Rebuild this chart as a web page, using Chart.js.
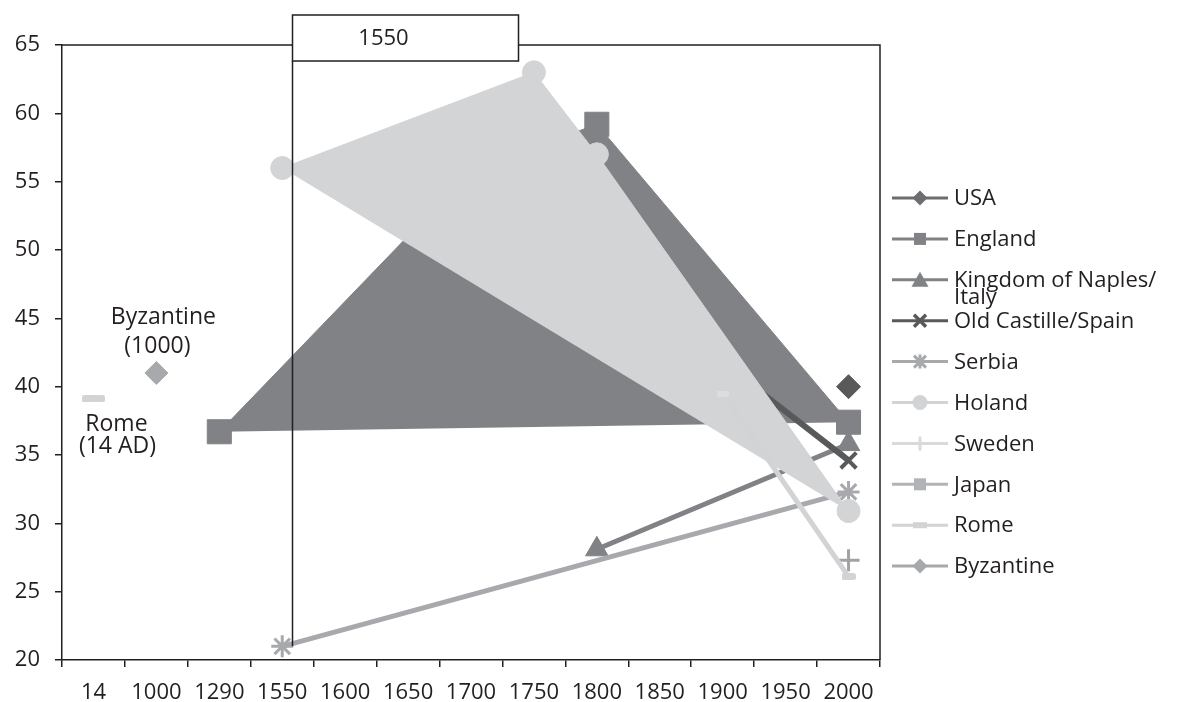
<!DOCTYPE html>
<html>
<head>
<meta charset="utf-8">
<script src="https://cdn.jsdelivr.net/npm/chart.js@4/dist/chart.umd.min.js"></script>
<style>
  html, body { margin: 0; padding: 0; background: #ffffff; }
  #wrap { width: 1178px; height: 702px; }
</style>
</head>
<body>
<div id="wrap"><canvas id="c" width="1178" height="702"></canvas></div>
<script>
// Categories along the time axis
const categories = ['14', '1000', '1290', '1550', '1600', '1650', '1700', '1750', '1800', '1850', '1900', '1950', '2000'];
const yTicks = [20, 25, 30, 35, 40, 45, 50, 55, 60, 65];

// Series values, one slot per category (null = no observation)
const usa       = [null, null, null, null, null, null, null, null, null, null, null, null, 40.0];
const england   = [null, null, 36.7, null, null, null, 55.8, null, 59.2, null, null, null, 37.4];
const naples    = [null, null, null, null, null, null, null, null, 28.1, null, null, null, 35.8];
const castille  = [null, null, null, null, null, null, null, 52.5, null, null, null, null, 34.6];
const serbia    = [null, null, null, 21.0, null, null, null, null, null, null, null, null, 32.3];
const holland   = [null, null, null, 56.0, null, null, null, 63.0, 57.0, null, null, null, 30.9];
const sweden    = [null, null, null, null, null, null, null, null, null, null, null, null, 27.3];
const japan     = [null, null, null, null, null, null, null, null, null, null, 39.5, null, 26.1];
const rome      = [39.1, null, null, null, null, null, null, null, null, null, null, null, null];
const byzantine = [null, 41.0, null, null, null, null, null, null, null, null, null, null, null];

const seriesNames = ['USA', 'England', 'Kingdom of Naples/Italy', 'Old Castille/Spain', 'Serbia',
                     'Holand', 'Sweden', 'Japan', 'Rome', 'Byzantine'];
const legendLines = [['USA'], ['England'], ['Kingdom of Naples/', 'Italy'], ['Old Castille/Spain'], ['Serbia'],
                     ['Holand'], ['Sweden'], ['Japan'], ['Rome'], ['Byzantine']];
const refYear = '1550';

const FONT = "'Open Sans', 'Noto Sans', sans-serif";
const TEXT = '#231f20';

// Small rounded dash used as a marker
function dashMarker(w, h, color) {
  const cv = document.createElement('canvas');
  cv.width = w; cv.height = h;
  const g = cv.getContext('2d');
  g.fillStyle = color;
  const r = Math.min(2, h / 2);
  g.beginPath();
  g.moveTo(r, 0); g.lineTo(w - r, 0); g.quadraticCurveTo(w, 0, w, r);
  g.lineTo(w, h - r); g.quadraticCurveTo(w, h, w - r, h);
  g.lineTo(r, h); g.quadraticCurveTo(0, h, 0, h - r);
  g.lineTo(0, r); g.quadraticCurveTo(0, 0, r, 0);
  g.fill();
  return cv;
}

const romeDash = dashMarker(23, 7, '#d1d3d4');
const japanDashA = dashMarker(12, 6, '#dcdddf');
const japanDashB = dashMarker(14, 7, '#d1d3d4');

const series = [
  { data: usa, name: seriesNames[0], line: '#58595b', point: '#58595b', style: 'rectRot', r: 12, bw: 4, pbw: 1, legend: '#6d6e71' },
  { data: england, name: seriesNames[1], line: '#808285', point: '#808285', style: 'rect', r: 17, bw: 1, pbw: 1, fill: 'shape', legend: '#808285' },
  { data: naples, name: seriesNames[2], line: '#808285', point: '#808285', style: 'triangle', r: 13, bw: 5, pbw: 1, legend: '#808285' },
  { data: castille, name: seriesNames[3], line: '#58595b', point: '#58595b', style: 'crossRot', r: 11, bw: 6, pbw: 4, legend: '#58595b' },
  { data: serbia, name: seriesNames[4], line: '#a7a9ac', point: '#a7a9ac', style: 'star', r: 11, bw: 5, pbw: 3, legend: '#a7a9ac' },
  { data: holland, name: seriesNames[5], line: '#d3d4d6', point: '#d3d4d6', style: 'circle', r: 11.5, bw: 1, pbw: 1, fill: 'shape', legend: '#d1d3d4' },
  { data: sweden, name: seriesNames[6], line: '#d9d9d9', point: '#a0a2a5', style: 'cross', r: 11, bw: 4, pbw: 3, legend: '#d9dadb' },
  { data: japan, name: seriesNames[7], line: '#d1d3d4', point: '#d1d3d4', style: [null, null, null, null, null, null, null, null, null, null, japanDashA, null, japanDashB], r: 6, bw: 5, pbw: 1, legend: '#b1b3b6', legendStyle: 'rect' },
  { data: rome, name: seriesNames[8], line: '#d1d3d4', point: '#d1d3d4', style: romeDash, r: 6, bw: 4, pbw: 1, legend: '#d1d3d4', legendStyle: 'dash' },
  { data: byzantine, name: seriesNames[9], line: '#a7a9ac', point: '#a7a9ac', style: 'rectRot', r: 11.5, bw: 4, pbw: 1, legend: '#a7a9ac' }
];

const datasets = series.map((s, i) => ({
  label: s.name,
  data: s.data,
  borderColor: s.line,
  backgroundColor: s.fill ? s.line : s.point,
  borderWidth: s.bw,
  pointStyle: s.style,
  pointRadius: s.r,
  pointHoverRadius: s.r,
  pointBackgroundColor: s.point,
  pointBorderColor: s.point,
  pointBorderWidth: s.pbw,
  fill: s.fill ? 'shape' : false,
  spanGaps: true,
  tension: 0,
  order: series.length - i,
  borderJoinStyle: 'miter'
}));

// Legend marker shapes (drawn by hand so the two-line entry wraps)
function legendMarker(ctx, kind, x, y, color) {
  ctx.save();
  ctx.fillStyle = color; ctx.strokeStyle = color;
  ctx.beginPath();
  if (kind === 'rectRot') {
    ctx.moveTo(x, y - 7.5); ctx.lineTo(x + 7.5, y); ctx.lineTo(x, y + 7.5); ctx.lineTo(x - 7.5, y); ctx.closePath(); ctx.fill();
  } else if (kind === 'rect') {
    ctx.rect(x - 6, y - 6, 12, 12); ctx.fill();
  } else if (kind === 'triangle') {
    ctx.moveTo(x, y - 8); ctx.lineTo(x + 8.5, y + 7); ctx.lineTo(x - 8.5, y + 7); ctx.closePath(); ctx.fill();
  } else if (kind === 'crossRot') {
    ctx.lineWidth = 3.5;
    ctx.moveTo(x - 6, y - 6); ctx.lineTo(x + 6, y + 6); ctx.moveTo(x + 6, y - 6); ctx.lineTo(x - 6, y + 6); ctx.stroke();
  } else if (kind === 'star') {
    ctx.lineWidth = 3;
    ctx.moveTo(x - 6, y - 6); ctx.lineTo(x + 6, y + 6); ctx.moveTo(x + 6, y - 6); ctx.lineTo(x - 6, y + 6);
    ctx.moveTo(x, y - 7); ctx.lineTo(x, y + 7); ctx.stroke();
  } else if (kind === 'circle') {
    ctx.arc(x, y, 7.5, 0, Math.PI * 2); ctx.fill();
  } else if (kind === 'cross') {
    ctx.lineWidth = 3;
    ctx.moveTo(x - 7, y); ctx.lineTo(x + 7, y); ctx.moveTo(x, y - 7); ctx.lineTo(x, y + 7); ctx.stroke();
  } else if (kind === 'dash') {
    ctx.rect(x - 7, y - 3, 14, 6); ctx.fill();
  }
  ctx.restore();
}

const overlayPlugin = {
  id: 'overlay',
  afterDraw(chart) {
    const { ctx, chartArea, scales } = chart;
    const xs = scales.x, ys = scales.y;
    ctx.save();

    // frame on the top and right of the plot area
    ctx.strokeStyle = TEXT; ctx.lineWidth = 1.5;
    ctx.beginPath();
    ctx.moveTo(chartArea.left, chartArea.top); ctx.lineTo(chartArea.right, chartArea.top);
    ctx.lineTo(chartArea.right, chartArea.bottom);
    ctx.stroke();

    // reference marker for the year 1550
    const idx = categories.indexOf(refYear);
    const step = xs.getPixelForValue(1) - xs.getPixelForValue(0);
    const lx = Math.round(xs.getPixelForValue(idx) + step * 0.16) + 0.5;
    const boxTop = 15, boxBottom = 61, boxW = 226;
    ctx.lineWidth = 1.5;
    ctx.beginPath();
    ctx.moveTo(lx, boxBottom);
    ctx.lineTo(lx, ys.getPixelForValue(serbia[idx]));
    ctx.stroke();
    ctx.fillStyle = '#ffffff';
    ctx.fillRect(lx, boxTop, boxW, boxBottom - boxTop);
    ctx.strokeRect(lx, boxTop, boxW, boxBottom - boxTop);
    ctx.fillStyle = TEXT;
    ctx.font = '22px ' + FONT;
    ctx.textAlign = 'center'; ctx.textBaseline = 'middle';
    ctx.fillText(refYear, lx + 91, (boxTop + boxBottom) / 2 + 1);

    // point captions for the two single ancient observations
    ctx.font = '23px ' + FONT;
    const rx = xs.getPixelForValue(0), ry = ys.getPixelForValue(rome[0]);
    ctx.fillText('Rome', rx + 23, ry + 25);
    ctx.fillText('(14 AD)', rx + 24, ry + 47);
    const bx = xs.getPixelForValue(1), by = ys.getPixelForValue(byzantine[1]);
    ctx.fillText('Byzantine', bx + 7, by - 56);
    ctx.fillText('(1000)', bx + 1, by - 27);

    // legend
    const lgX = chartArea.right + 12;
    ctx.textAlign = 'left';
    ctx.font = '22px ' + FONT;
    series.forEach((s, i) => {
      const lgY = 198 + i * 40.9;
      ctx.strokeStyle = s.legend; ctx.lineWidth = 3;
      ctx.beginPath(); ctx.moveTo(lgX, lgY); ctx.lineTo(lgX + 56, lgY); ctx.stroke();
      const kind = s.legendStyle || (typeof s.style === 'string' ? s.style : 'rect');
      legendMarker(ctx, kind, lgX + 28, lgY, s.legend);
      ctx.fillStyle = TEXT;
      legendLines[i].forEach((t, k) => ctx.fillText(t, lgX + 62, lgY + 1 + k * 17));
    });
    ctx.restore();
  }
};

new Chart(document.getElementById('c'), {
  type: 'line',
  data: { labels: categories, datasets },
  options: {
    responsive: false,
    animation: false,
    events: [],
    layout: { padding: { top: 45, right: 298, left: 0, bottom: 0 } },
    plugins: { legend: { display: false }, tooltip: { enabled: false } },
    scales: {
      x: {
        type: 'category',
        offset: true,
        grid: { display: true, offset: true, drawOnChartArea: false, tickLength: 7, color: TEXT, lineWidth: 1.5 },
        border: { display: true, color: TEXT, width: 1.5 },
        ticks: { color: TEXT, font: { family: FONT, size: 22 }, padding: 13, maxRotation: 0, autoSkip: false },
        afterFit(scale) { scale.height = 42; }
      },
      y: {
        min: 20, max: 65,
        afterBuildTicks(scale) { scale.ticks = yTicks.map(v => ({ value: v })); },
        grid: { display: true, drawOnChartArea: false, tickLength: 7, color: TEXT, lineWidth: 1.5 },
        border: { display: true, color: TEXT, width: 1.5 },
        ticks: { color: TEXT, font: { family: FONT, size: 22 }, padding: 15 },
        afterFit(scale) { scale.width = 62; }
      }
    }
  },
  plugins: [overlayPlugin]
});
</script>
</body>
</html>
